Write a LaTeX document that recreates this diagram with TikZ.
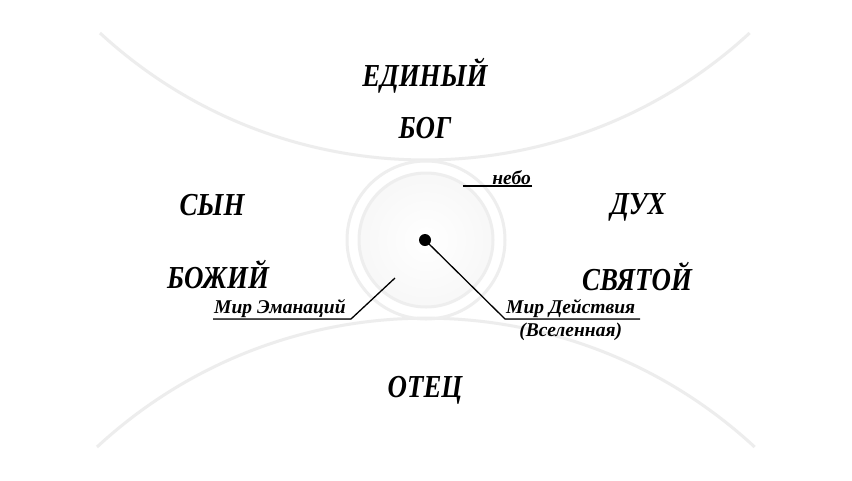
\documentclass[tikz,border=0pt]{standalone}
\usepackage{fontspec}
\setmainfont{Liberation Serif}
\newfontfamily\narrowserif[FakeStretch=0.84]{Liberation Serif}
\usetikzlibrary{positioning}
\tikzset{
	big/.style={font=\narrowserif\fontsize{32}{32}\selectfont\bfseries\itshape},
	small/.style={font=\fontsize{19.5}{19.5}\selectfont\bfseries\itshape,inner sep=1pt},
	bigarc/.style={draw=gray!14,line width=3pt},
	ring/.style={draw=gray!13,line width=3pt},
	lead/.style={draw=black,line width=1.3pt},
	leadshadow/.style={draw=gray!50,line width=1pt,yshift=-2pt}
}

\begin{document}
\begin{tikzpicture}[x=1pt,y=-1pt]
	\useasboundingbox[fill=white] (0,0) rectangle (852,480);
	% big arcs
	\draw[bigarc] (100,33) arc[start angle=132.7, end angle=47.3, radius=479];
	\draw[bigarc] (97,447) arc[start angle=227.2, end angle=312.8, radius=484];
	% centre rings
	\draw[ring] (426,240) circle[radius=79];
	\shade[inner color=white,outer color=gray!6] (426,240) circle[radius=67];
	\draw[ring] (426,240) circle[radius=67];
	\node[circle,fill=black,inner sep=0pt,minimum size=12pt] (dot) at (425,240) {};
	% titles
	\node[big] (edin) at (425,76) {ЕДИНЫЙ};
	\node[big] (bog) at (425,128) {БОГ};
	\node[big] (syn) at (212,205) {СЫН};
	\node[big] (bozh) at (218,275) {БОЖИЙ};
	\node[big] (duh) at (638,207) {ДУХ};
	\node[big] (svyat) at (637,277) {СВЯТОЙ};
	\node[big] (otec) at (425,390) {ОТЕЦ};
	% labels
	\node[small,anchor=south east] (nebo) at (532,186) {небо};
	\coordinate (neboEnd) at (463,186);
	\draw[leadshadow] (nebo.south east) -- (neboEnd);
	\draw[lead] (nebo.south east) -- (neboEnd);
	\node[small,anchor=south west] (ema) at (213,319) {Мир Эманаций};
	\coordinate (emaTip) at (395,278);
	\coordinate (emaEnd) at (351,319);
	\draw[leadshadow] (ema.south west) -- (emaEnd);
	\draw[lead] (ema.south west) -- (emaEnd) -- (emaTip);
	\node[small,anchor=south west] (dey) at (505,319) {Мир Действия};
	\coordinate (deyEnd) at (640,319);
	\draw[leadshadow] (dey.south west) -- (deyEnd);
	\draw[lead] (dot.center) -- (dey.south west) -- (deyEnd);
	\node[small,below=3pt of dey] (vsel) {(Вселенная)};
\end{tikzpicture}
\end{document}
